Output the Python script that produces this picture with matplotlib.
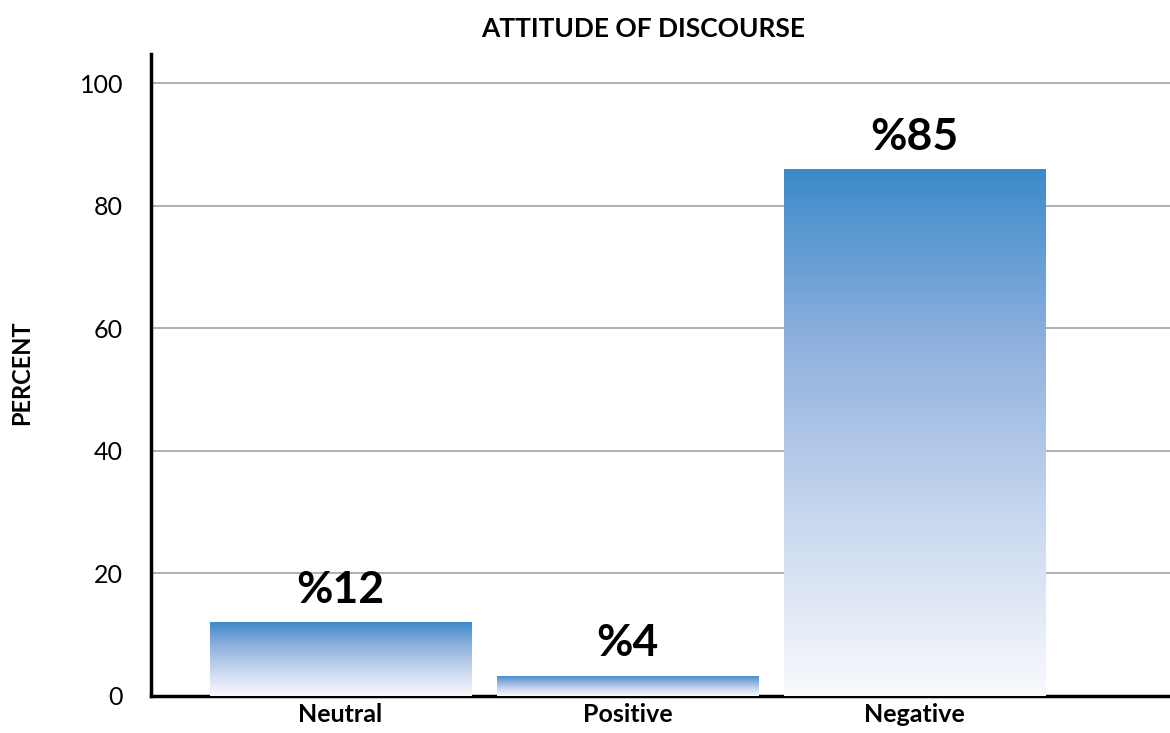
import numpy as np
import matplotlib
matplotlib.use("Agg")
import matplotlib.pyplot as plt
from matplotlib.colors import LinearSegmentedColormap

plt.rcParams['font.family'] = ['Lato', 'DejaVu Sans']

# data
categories = ["Neutral", "Positive", "Negative"]
values = [12.1, 3.3, 86.0]
value_labels = ["%12", "%4", "%85"]
yticks = [0, 20, 40, 60, 80, 100]

TITLE = "ATTITUDE OF DISCOURSE"
YLABEL = "PERCENT"

cmap = LinearSegmentedColormap.from_list(
    "bar_grad", ["#f9f9fd", "#c9d8ef", "#8fb1de", "#3c8aca"])

fig = plt.figure(figsize=(11.7, 7.33), dpi=100)
ax = fig.add_axes([0.129, 0.0505, 0.871, 0.8755])

x = np.arange(len(categories))
width = 0.91
bars = ax.bar(x, values, width=width, color="none", edgecolor="none", zorder=3)

# vertical gradient inside every bar
grad = np.linspace(0, 1, 256).reshape(-1, 1)
for rect in bars:
    x0, y0 = rect.get_x(), rect.get_y()
    w, h = rect.get_width(), rect.get_height()
    im = ax.imshow(grad, cmap=cmap, origin="lower", aspect="auto",
                   extent=[x0, x0 + w, y0, y0 + h], zorder=3)
    im.set_clip_path(rect)

for xi, v, lab in zip(x, values, value_labels):
    ax.text(xi, v + 2.0, lab, ha="center", va="bottom", fontsize=32,
            fontweight="bold", color="black", zorder=4)

ax.set_xlim(-0.66, 2.89)
ax.set_ylim(0, 104.7)
ax.set_yticks(yticks)
ax.set_xticks(x)
ax.set_xticklabels(categories, fontsize=18, fontweight="bold")
ax.tick_params(axis="y", length=0, labelsize=18, pad=20)
ax.tick_params(axis="x", length=0, pad=5)

ax.yaxis.grid(True, color="#9a9a9a", linewidth=1.1, zorder=0)
ax.set_axisbelow(True)

for s in ["top", "right"]:
    ax.spines[s].set_visible(False)
ax.spines["left"].set_linewidth(2.5)
ax.spines["bottom"].set_linewidth(2.5)

fig.text(22 / 1170, 1 - 373 / 733, YLABEL, rotation=90, ha="center",
         va="center", fontsize=17, fontweight="bold")
fig.text(0.55, 0.96, TITLE, ha="center", va="center", fontsize=19,
         fontweight="bold")

fig.savefig("out.png", dpi=100)
